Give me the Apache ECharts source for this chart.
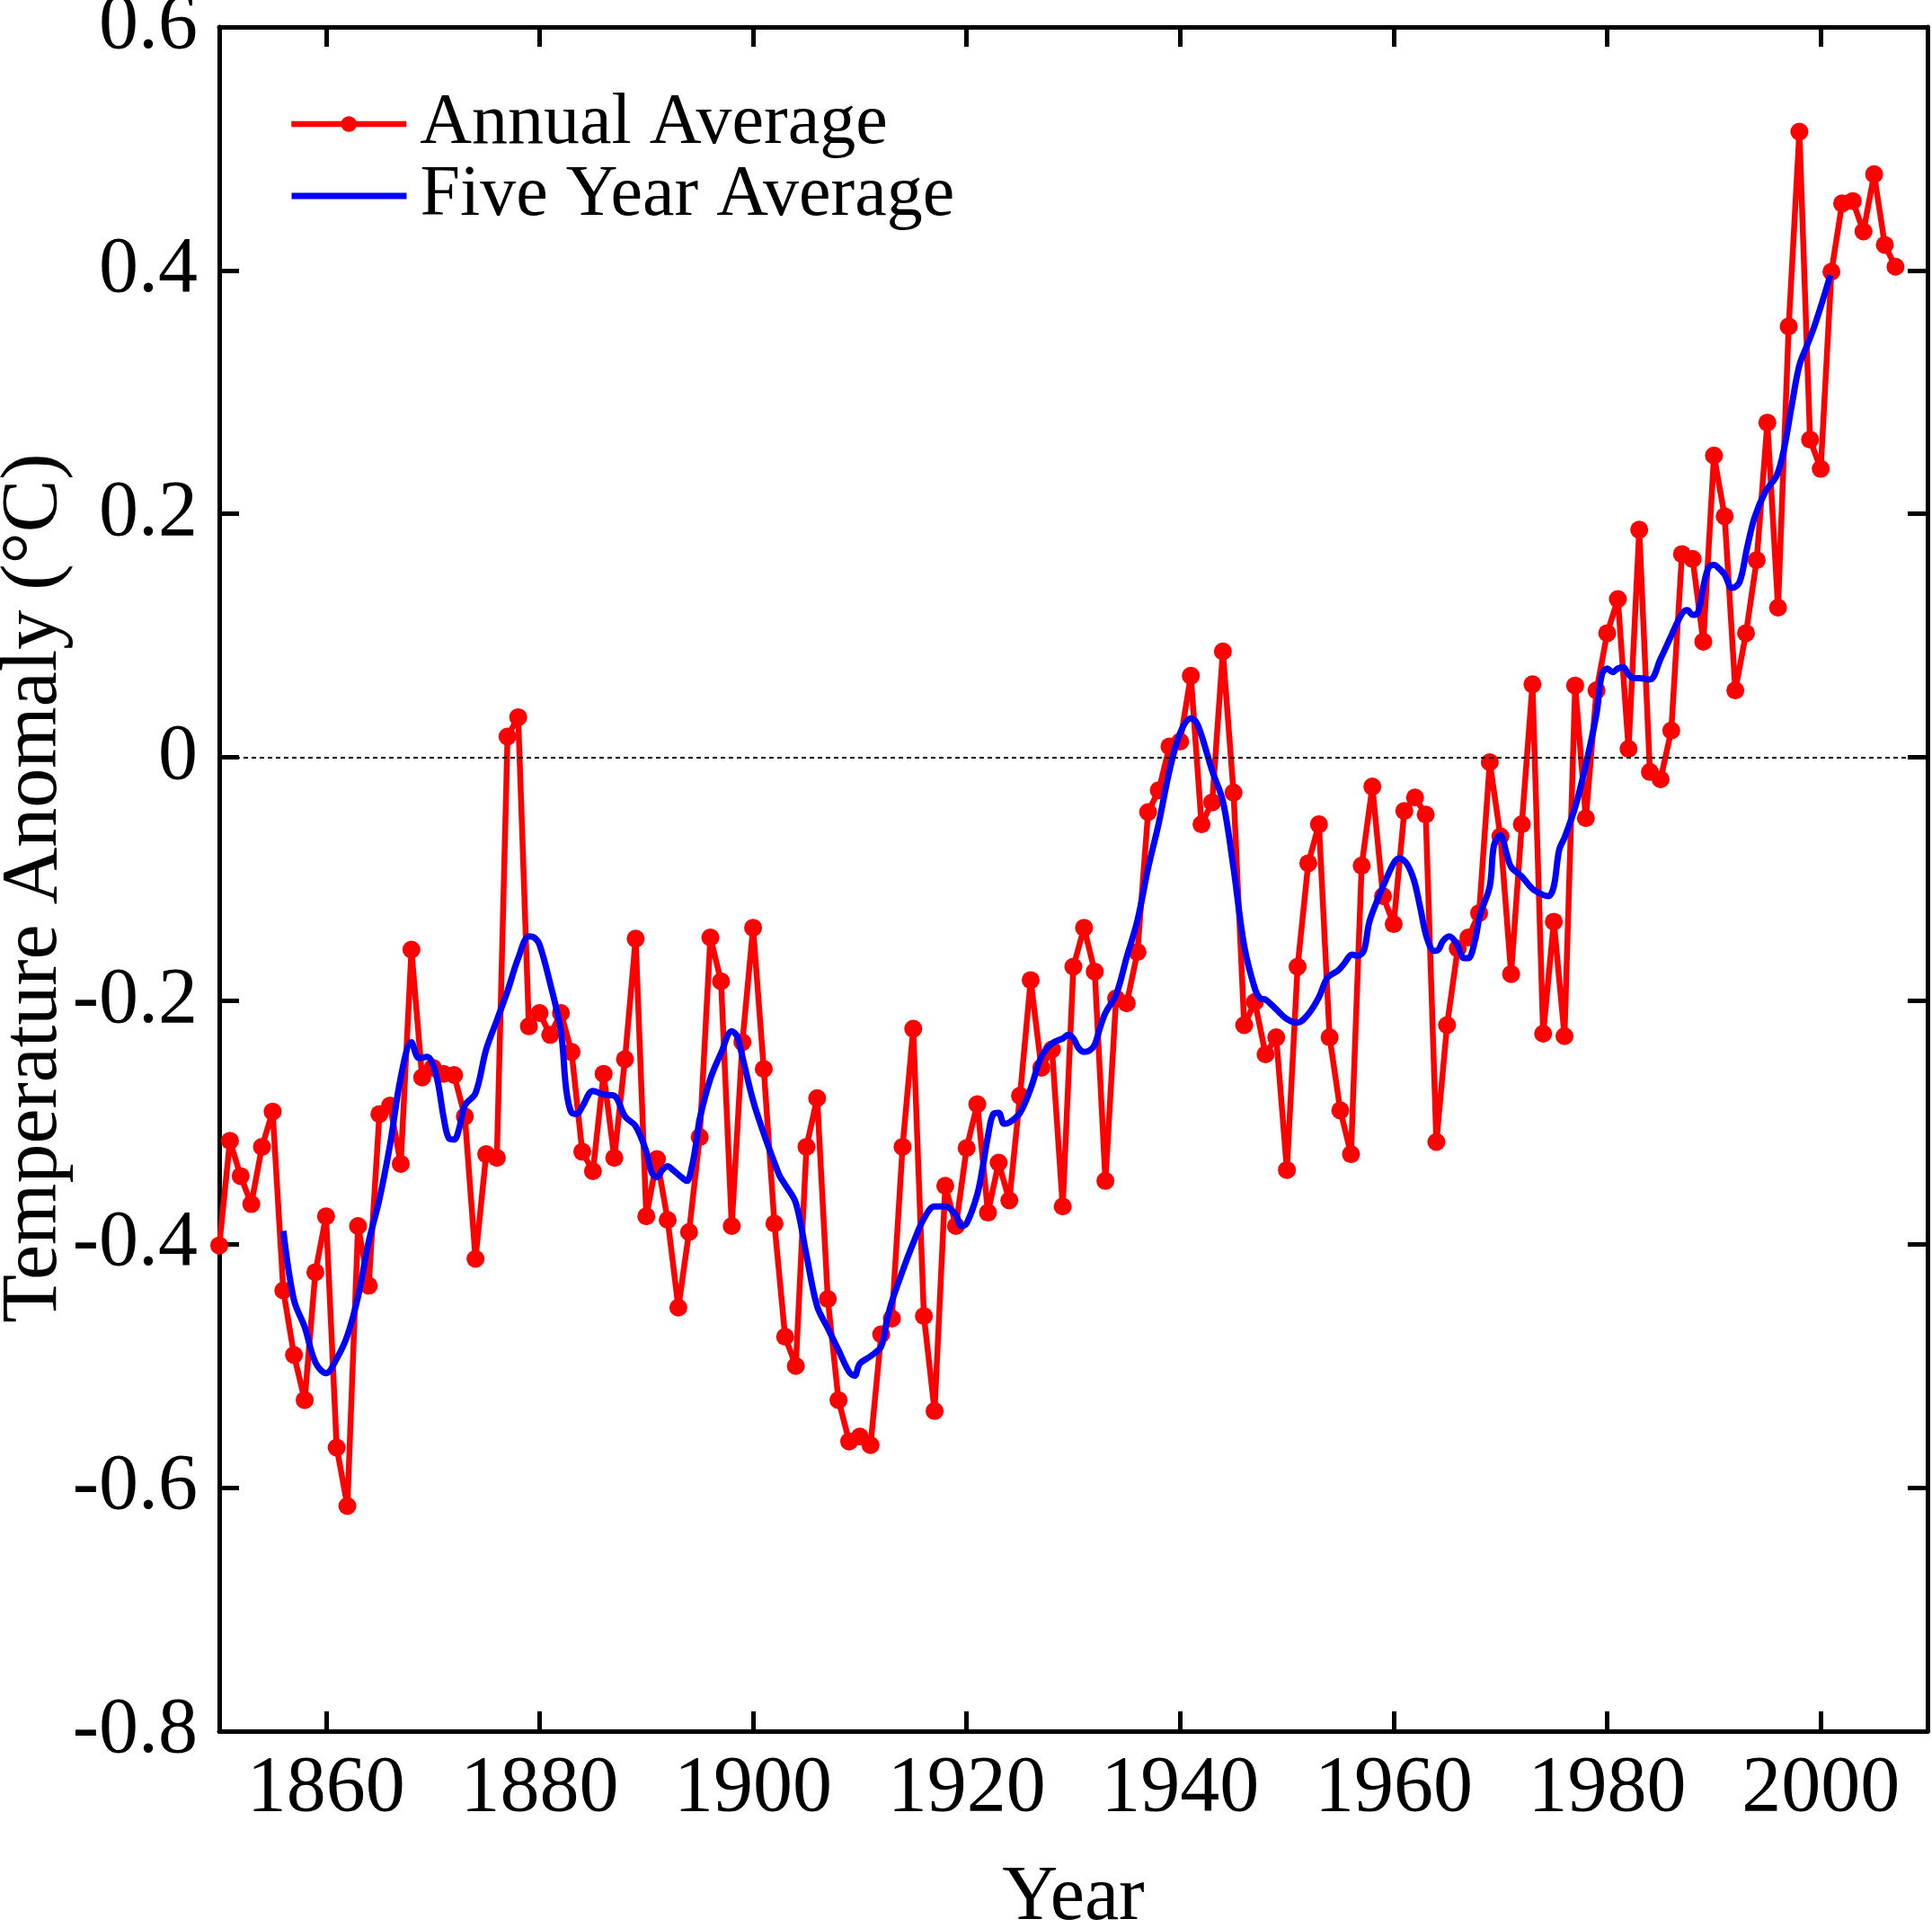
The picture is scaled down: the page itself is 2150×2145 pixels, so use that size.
<!DOCTYPE html>
<html><head><meta charset="utf-8">
<script src="https://cdn.jsdelivr.net/npm/echarts@6/dist/echarts.min.js"></script>
<style>html,body{margin:0;padding:0;background:#fff}#chart{width:2150px;height:2145px}</style>
</head><body><div id="chart"></div>
<script>
// ---- data ----
const annualYears = [];
for (let y = 1850; y <= 2007; y++) annualYears.push(y);
const annualValues = [
 -0.401,-0.315,-0.344,-0.367,-0.320,-0.291,-0.438,-0.491,-0.528,-0.423,
 -0.377,-0.567,-0.615,-0.385,-0.434,-0.293,-0.286,-0.334,-0.158,-0.263,
 -0.255,-0.260,-0.261,-0.295,-0.412,-0.326,-0.329,0.017,0.033,-0.221,
 -0.210,-0.228,-0.210,-0.242,-0.324,-0.340,-0.260,-0.329,-0.248,-0.149,
 -0.377,-0.330,-0.380,-0.452,-0.390,-0.312,-0.148,-0.184,-0.385,-0.234,
 -0.140,-0.256,-0.383,-0.476,-0.500,-0.320,-0.280,-0.445,-0.528,-0.562,
 -0.558,-0.565,-0.474,-0.461,-0.320,-0.223,-0.459,-0.537,-0.352,-0.385,
 -0.321,-0.285,-0.374,-0.333,-0.364,-0.278,-0.183,-0.255,-0.240,-0.369,
 -0.172,-0.140,-0.176,-0.348,-0.198,-0.202,-0.160,-0.045,-0.027,0.009,
 0.013,0.067,-0.055,-0.037,0.087,-0.029,-0.220,-0.201,-0.244,-0.230,
 -0.339,-0.172,-0.087,-0.055,-0.230,-0.290,-0.326,-0.089,-0.024,-0.114,
 -0.137,-0.044,-0.033,-0.047,-0.316,-0.220,-0.157,-0.148,-0.128,-0.004,
 -0.065,-0.178,-0.055,0.060,-0.227,-0.135,-0.229,0.059,-0.050,0.055,
 0.102,0.130,0.007,0.187,-0.012,-0.018,0.022,0.167,0.163,0.095,
 0.248,0.198,0.055,0.102,0.162,0.275,0.123,0.354,0.514,0.261,
 0.237,0.399,0.455,0.457,0.432,0.479,0.421,0.403
];
const fiveYearYears = [
 1856,1857,1858,1859,1860,1861,1862,1863,1864,1865,1866,1867,1868,1868.7,1869.5,1870,1870.5,1871,1871.5,1872,
 1872.5,1873,1874,1875,1876,1877,1878,1879,1879.5,1880,1881,1882,1882.5,1883,1883.5,1884,1885,1886,1887,1888,
 1889,1890,1890.5,1891,1891.5,1892,1892.5,1893.3,1893.8,1894.3,1894.7,1895,1896,1897,1898,1898.5,1899,1900,1901,1902,
 1902.5,1903,1904,1905,1906,1907,1908,1909,1909.5,1910,1911,1912,1912.5,1913,1914,1915,1916,1917,1918,1919,
 1919.5,1920,1921,1921.5,1922,1922.5,1923,1923.5,1924,1925,1926,1927,1928,1929,1929.5,1930,1930.5,1931,1931.5,1932,
 1932.5,1933,1934,1935,1936,1937,1938,1939,1940,1941,1941.5,1942,1943,1944,1945,1946,1947,1947.5,1948,1949,
 1950,1951,1952,1953,1953.8,1954.8,1955.4,1956.1,1956.6,1957.2,1957.7,1958.3,1959.1,1960,1960.5,1961.2,1961.9,1962.5,1963.1,1963.8,
 1964.2,1964.6,1965.2,1965.9,1966.6,1967,1967.6,1968.1,1969,1969.4,1970,1970.6,1971,1972,1973,1974,1974.5,1975,1975.5,1976,
 1977,1978,1979,1979.5,1980,1980.5,1981,1981.5,1982,1982.5,1983,1984,1985,1986,1987,1987.5,1988,1988.5,1989,1989.5,
 1990,1990.5,1991,1991.7,1992.4,1993.1,1993.8,1994.8,1995.9,1996.6,1997.3,1998,1998.7,1999.4,2000.1,2000.9
];
const fiveYearValues = [
 -0.389,-0.446,-0.468,-0.497,-0.506,-0.494,-0.475,-0.443,-0.398,-0.363,-0.318,-0.263,-0.234,-0.247,-0.246,-0.252,-0.268,-0.295,-0.313,-0.314,
 -0.304,-0.286,-0.276,-0.240,-0.216,-0.192,-0.165,-0.147,-0.148,-0.154,-0.186,-0.225,-0.273,-0.292,-0.293,-0.287,-0.274,-0.277,-0.278,-0.295,
 -0.303,-0.324,-0.341,-0.345,-0.339,-0.336,-0.339,-0.345,-0.348,-0.335,-0.315,-0.297,-0.264,-0.243,-0.225,-0.229,-0.246,-0.282,-0.309,-0.333,
 -0.344,-0.351,-0.366,-0.409,-0.451,-0.469,-0.487,-0.505,-0.508,-0.498,-0.492,-0.484,-0.464,-0.447,-0.422,-0.399,-0.379,-0.369,-0.369,-0.376,
 -0.385,-0.383,-0.359,-0.337,-0.311,-0.293,-0.292,-0.301,-0.300,-0.292,-0.272,-0.246,-0.235,-0.231,-0.228,-0.231,-0.239,-0.242,-0.241,-0.236,
 -0.222,-0.210,-0.195,-0.164,-0.134,-0.091,-0.054,-0.011,0.020,0.032,0.029,0.018,-0.011,-0.036,-0.091,-0.155,-0.190,-0.198,-0.199,-0.207,
 -0.215,-0.218,-0.211,-0.197,-0.181,-0.175,-0.169,-0.162,-0.163,-0.159,-0.136,-0.121,-0.104,-0.087,-0.083,-0.087,-0.101,-0.124,-0.148,-0.159,
 -0.158,-0.151,-0.147,-0.153,-0.165,-0.165,-0.151,-0.129,-0.106,-0.072,-0.064,-0.080,-0.090,-0.098,-0.108,-0.113,-0.114,-0.106,-0.076,-0.066,
 -0.041,-0.006,0.036,0.068,0.073,0.070,0.073,0.074,0.068,0.065,0.065,0.064,0.081,0.100,0.118,0.121,0.117,0.119,0.140,0.156,
 0.158,0.155,0.150,0.139,0.144,0.172,0.197,0.218,0.232,0.255,0.290,0.322,0.338,0.354,0.373,0.396
];
const xTickYears = [1860,1880,1900,1920,1940,1960,1980,2000];
const seriesNames = ['Annual Average','Five Year Average'];

// ---- chart ----
const FONT = 'Liberation Serif';
const chart = echarts.init(document.getElementById('chart'), null, {renderer:'canvas'});
const annualData = annualYears.map((y,i)=>[y, annualValues[i]]);
const fiveData = fiveYearYears.map((y,i)=>[y, fiveYearValues[i]]);

const axisLineStyle = {color:'#000', width:5};
const tickStyle = {show:true, inside:true, length:22, lineStyle:{color:'#000', width:5}};
const legendText = {fontFamily:FONT, fontSize:80, color:'#000', lineHeight:80, padding:[0,0,0,10]};

chart.setOption({
  backgroundColor:'#fff',
  animation:false,
  grid:{left:244, top:30, width:1901, height:1896, containLabel:false, outerBoundsMode:'none'},
  legend:[
    {data:[seriesNames[0]], left:316, top:93, orient:'vertical',
     itemWidth:128, itemHeight:22, selectedMode:false, textStyle:legendText,
     lineStyle:{width:6.5, color:'#ff0000'}},
    {data:[seriesNames[1]], left:316, top:173, orient:'vertical',
     itemWidth:128, itemHeight:22, selectedMode:false, textStyle:legendText,
     itemStyle:{opacity:0}, lineStyle:{width:7, color:'#0000ff'}}
  ],
  xAxis:[
    {type:'value', min:1850, max:2010, position:'bottom',
     name:'Year', nameLocation:'middle', nameGap:143, nameMoveOverlap:false,
     nameTextStyle:{fontFamily:FONT, fontSize:86, color:'#000'},
     axisLine:{show:true, onZero:false, lineStyle:axisLineStyle},
     axisTick:Object.assign({customValues:xTickYears}, tickStyle),
     axisLabel:{customValues:xTickYears, fontFamily:FONT, fontSize:88, color:'#000', margin:21,
       formatter:v=>String(v)},
     splitLine:{show:false}},
    {type:'value', min:1850, max:2010, position:'top',
     axisLine:{show:true, onZero:false, lineStyle:axisLineStyle},
     axisTick:Object.assign({customValues:xTickYears}, tickStyle),
     axisLabel:{show:false}, splitLine:{show:false}}
  ],
  yAxis:[
    {type:'value', min:-0.8, max:0.6, interval:0.2, position:'left',
     name:'Temperature Anomaly (°C)', nameLocation:'middle', nameGap:161, nameRotate:90,
     nameMoveOverlap:false,
     nameTextStyle:{fontFamily:FONT, fontSize:88, color:'#000', padding:[0,20,0,0]},
     axisLine:{show:true, onZero:false, lineStyle:axisLineStyle},
     axisTick:tickStyle,
     axisLabel:{fontFamily:FONT, fontSize:88, color:'#000', margin:24,
       formatter:v=>{const r=Math.round(v*10)/10; return r===0?'0':r.toFixed(1);}},
     splitLine:{show:false}},
    {type:'value', min:-0.8, max:0.6, interval:0.2, position:'right',
     axisLine:{show:true, onZero:false, lineStyle:axisLineStyle},
     axisTick:tickStyle, axisLabel:{show:false}, splitLine:{show:false}}
  ],
  series:[
    {name:seriesNames[0], type:'line', data:annualData, xAxisIndex:0, yAxisIndex:0,
     symbol:'circle', symbolSize:20, showAllSymbol:true,
     lineStyle:{color:'#ff0000', width:6.5}, itemStyle:{color:'#ff0000'},
     z:2,
     markLine:{silent:true, symbol:['none','none'], label:{show:false},
       lineStyle:{color:'#000', width:2, type:[5,4]},
       data:[{yAxis:0}], animation:false}},
    {name:seriesNames[1], type:'line', data:fiveData, xAxisIndex:0, yAxisIndex:0,
     symbol:'none', smooth:0.35,
     lineStyle:{color:'#0000ff', width:7}, itemStyle:{color:'#0000ff'},
     z:3}
  ]
});
</script></body></html>
